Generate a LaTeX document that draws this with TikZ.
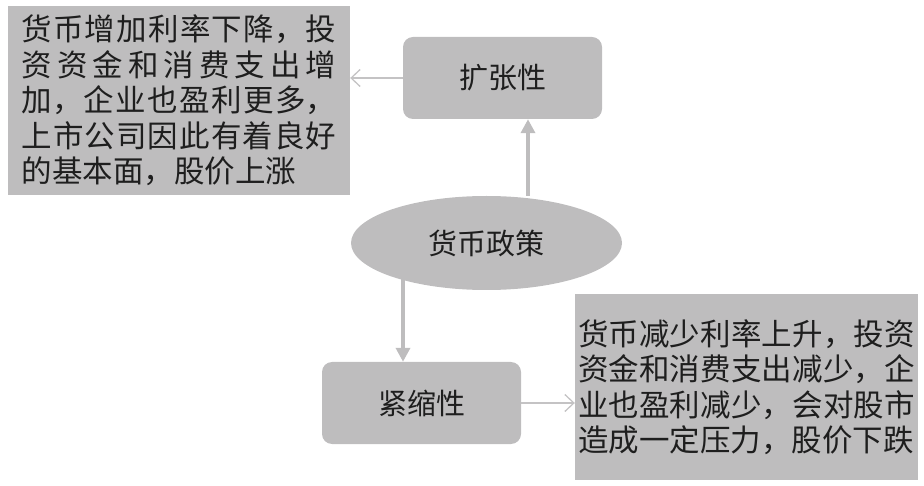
\documentclass[tikz,border=0pt]{standalone}
\usepackage{fontspec}
\setmainfont{Noto Sans CJK SC}
\usetikzlibrary{positioning, arrows.meta, shapes.geometric}
\definecolor{boxgray}{RGB}{190,189,190}
\definecolor{linegray}{RGB}{196,195,196}
\definecolor{inkgray}{RGB}{30,30,30}
\XeTeXlinebreaklocale "zh"
\XeTeXlinebreakskip=0pt plus 8pt
\tolerance=2000

\tikzset{
    panel/.style={
        fill=boxgray,
        rectangle,
        align=justify,
        text=inkgray,
        font=\fontsize{30.5}{35.5}\selectfont,
        inner sep=0pt,
    },
    kindbox/.style={
        fill=boxgray,
        rectangle,
        rounded corners=10pt,
        minimum width=199pt,
        minimum height=82pt,
        text=inkgray,
        font=\fontsize{29}{33}\selectfont,
    },
    bigarrow/.style={
        draw=boxgray,
        line width=4pt,
        -{Triangle[length=14pt, width=14pt]},
    },
    thinarrow/.style={
        draw=linegray,
        line width=1.3pt,
        -{Straight Barb[length=9pt, width=17pt]},
    },
}

\begin{document}
\begin{tikzpicture}[x=1pt, y=-1pt]
\useasboundingbox (0,0) rectangle (924,486);

% --- policy ---
\node [
    fill=boxgray,
    ellipse,
    minimum width=271pt,
    minimum height=94pt,
    inner sep=0pt,
    text=inkgray,
    font=\fontsize{29}{33}\selectfont,
] (policy) at (486.5,243) {货币政策};

% --- two kinds ---
\node [
    kindbox,
] (expand) at (502.5,78) {扩张性};

\node [
    kindbox,
    text depth=2pt,
] (tighten) at (421.5,403) {紧缩性};

% --- effects ---
\node [
    panel,
    text width=315pt,
    minimum width=342pt,
    minimum height=189pt,
] (upside) at (179,100.5) {货币增加利率下降，投资资金和消费支出增加，企业也盈利更多，上市公司因此有着良好的基本面，股价上涨};

\node [
    panel,
    text width=337pt,
    minimum width=343pt,
    minimum height=186pt,
] (downside) at (746.5,387) {货币减少利率上升，投资资金和消费支出减少，企业也盈利减少，会对股市造成一定压力，股价下跌};

% --- connections ---
\draw [bigarrow] (policy.north -| 528,0) -- (expand.south -| 528,0);
\draw [bigarrow] ([yshift=14pt]policy.south -| 403,0) -- (tighten.north -| 403,0);

\draw [thinarrow] (expand.west) -- (expand.west -| upside.east);
\draw [thinarrow] (tighten.east) -- (tighten.east -| downside.west);

\end{tikzpicture}
\end{document}
